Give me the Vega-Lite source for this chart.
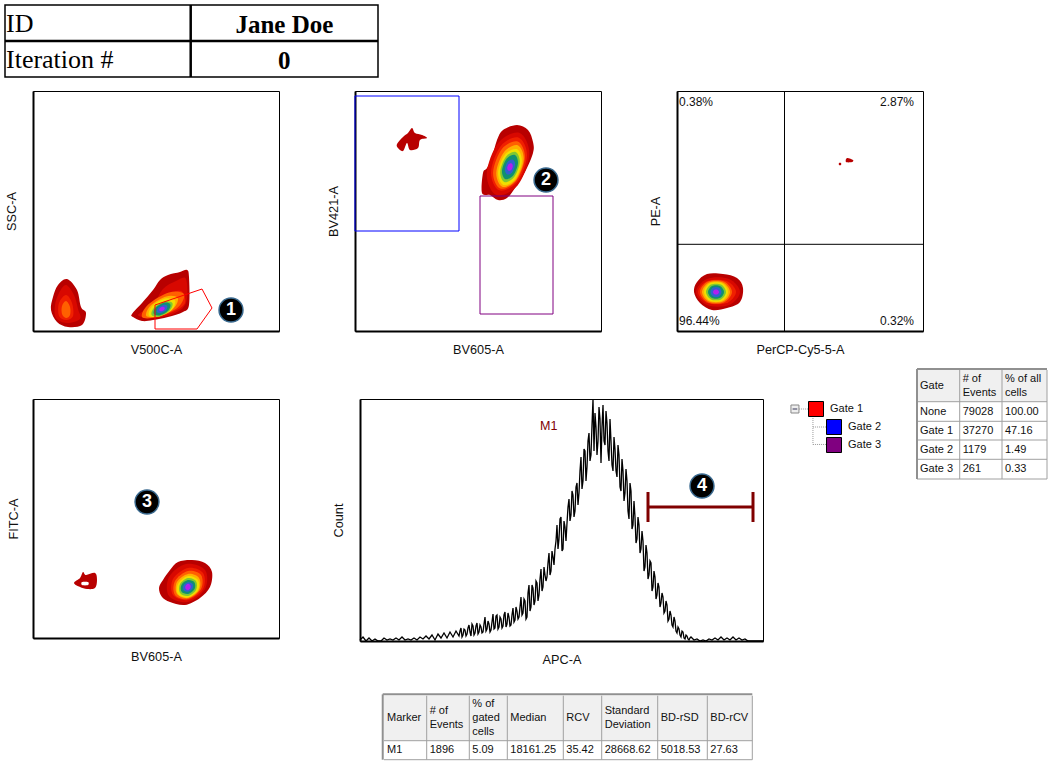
{"$schema":"https://vega.github.io/schema/vega-lite/v6.json","background":"white","padding":{"left":3,"top":3,"right":0,"bottom":0},"bounds":"full","spacing":11,
"config":{"view":{"stroke":null},"axis":{"domainColor":"#000","domainWidth":2,"ticks":false,"labels":false,"grid":false,"titleFont":"Liberation Sans","titleFontSize":12.7,"titleFontWeight":"normal","titleColor":"#111","titlePadding":15},"axisX":{"titlePadding":12},"text":{"font":"Liberation Sans","fontSize":11,"color":"#111","baseline":"middle","align":"left"}},
"datasets":{
"p1":[
{"b":"a","l":1,"i":0,"x":34,"y":52},{"b":"a","l":1,"i":1,"x":44,"y":41},{"b":"a","l":1,"i":2,"x":48,"y":24},{"b":"a","l":1,"i":3,"x":53,"y":18},{"b":"a","l":1,"i":4,"x":49,"y":6},{"b":"a","l":1,"i":5,"x":35,"y":4},{"b":"a","l":1,"i":6,"x":24,"y":9},{"b":"a","l":1,"i":7,"x":18,"y":21},{"b":"a","l":1,"i":8,"x":20,"y":34},{"b":"a","l":1,"i":9,"x":25,"y":46},
{"b":"a","l":2,"i":0,"x":33,"y":46},{"b":"a","l":2,"i":1,"x":41,"y":36},{"b":"a","l":2,"i":2,"x":45,"y":22},{"b":"a","l":2,"i":3,"x":47,"y":12},{"b":"a","l":2,"i":4,"x":34,"y":8},{"b":"a","l":2,"i":5,"x":23,"y":13},{"b":"a","l":2,"i":6,"x":22,"y":26},{"b":"a","l":2,"i":7,"x":26,"y":38},
{"b":"a","l":3,"i":0,"x":33,"y":36},{"b":"a","l":3,"i":1,"x":39,"y":28},{"b":"a","l":3,"i":2,"x":40,"y":15},{"b":"a","l":3,"i":3,"x":33,"y":11},{"b":"a","l":3,"i":4,"x":26,"y":15},{"b":"a","l":3,"i":5,"x":26,"y":28},
{"b":"a","l":4,"i":0,"x":33,"y":30},{"b":"a","l":4,"i":1,"x":37,"y":24},{"b":"a","l":4,"i":2,"x":37,"y":16},{"b":"a","l":4,"i":3,"x":33,"y":13},{"b":"a","l":4,"i":4,"x":29,"y":17},{"b":"a","l":4,"i":5,"x":29,"y":25},
{"b":"c","l":1,"i":0,"x":99,"y":17},{"b":"c","l":1,"i":1,"x":109,"y":28},{"b":"c","l":1,"i":2,"x":120,"y":41},{"b":"c","l":1,"i":3,"x":127,"y":51},{"b":"c","l":1,"i":4,"x":135,"y":56},{"b":"c","l":1,"i":5,"x":147,"y":59},{"b":"c","l":1,"i":6,"x":154,"y":61},{"b":"c","l":1,"i":7,"x":156,"y":54},{"b":"c","l":1,"i":8,"x":156,"y":26},{"b":"c","l":1,"i":9,"x":150,"y":19},{"b":"c","l":1,"i":10,"x":135,"y":14},{"b":"c","l":1,"i":11,"x":120,"y":11},{"b":"c","l":1,"i":12,"x":109,"y":10},{"b":"c","l":1,"i":13,"x":100,"y":14},
{"b":"c","l":2,"i":0,"x":105,"y":16},{"b":"c","l":2,"i":1,"x":120,"y":26},{"b":"c","l":2,"i":2,"x":130,"y":42},{"b":"c","l":2,"i":3,"x":143,"y":50},{"b":"c","l":2,"i":4,"x":153,"y":52},{"b":"c","l":2,"i":5,"x":153,"y":28},{"b":"c","l":2,"i":6,"x":140,"y":17},{"b":"c","l":2,"i":7,"x":120,"y":13},
{"b":"c","l":3,"i":0,"x":109,"y":17},{"b":"c","l":3,"i":1,"x":122,"y":27},{"b":"c","l":3,"i":2,"x":134,"y":36},{"b":"c","l":3,"i":3,"x":148,"y":40},{"b":"c","l":3,"i":4,"x":152,"y":28},{"b":"c","l":3,"i":5,"x":140,"y":19},{"b":"c","l":3,"i":6,"x":122,"y":14},
{"b":"c","l":4,"i":0,"x":150.9,"y":37},{"b":"c","l":4,"i":1,"x":136,"y":38.6},{"b":"c","l":4,"i":2,"x":115.2,"y":26.6},{"b":"c","l":4,"i":3,"x":109.1,"y":14},{"b":"c","l":4,"i":4,"x":124,"y":14},{"b":"c","l":4,"i":5,"x":144.8,"y":23.4},
{"b":"c","l":5,"i":0,"x":144.7,"y":33},{"b":"c","l":5,"i":1,"x":133.3,"y":34.6},{"b":"c","l":5,"i":2,"x":117.7,"y":25.6},{"b":"c","l":5,"i":3,"x":113.3,"y":15},{"b":"c","l":5,"i":4,"x":124.7,"y":15},{"b":"c","l":5,"i":5,"x":140.3,"y":22.4},
{"b":"c","l":6,"i":0,"x":142,"y":30.5},{"b":"c","l":6,"i":1,"x":132.2,"y":32.5},{"b":"c","l":6,"i":2,"x":119.2,"y":24.9},{"b":"c","l":6,"i":3,"x":116,"y":15.5},{"b":"c","l":6,"i":4,"x":125.8,"y":14.5},{"b":"c","l":6,"i":5,"x":138.8,"y":21.1},
{"b":"c","l":7,"i":0,"x":139.4,"y":28},{"b":"c","l":7,"i":1,"x":131.6,"y":29.5},{"b":"c","l":7,"i":2,"x":121.2,"y":23.5},{"b":"c","l":7,"i":3,"x":118.6,"y":16},{"b":"c","l":7,"i":4,"x":126.4,"y":14.5},{"b":"c","l":7,"i":5,"x":136.8,"y":20.5},
{"b":"c","l":8,"i":0,"x":137.3,"y":26.8},{"b":"c","l":8,"i":1,"x":130.9,"y":28.2},{"b":"c","l":8,"i":2,"x":122.7,"y":23.4},{"b":"c","l":8,"i":3,"x":120.7,"y":17.2},{"b":"c","l":8,"i":4,"x":127.1,"y":15.8},{"b":"c","l":8,"i":5,"x":135.3,"y":20.6},
{"b":"c","l":9,"i":0,"x":134.2,"y":25},{"b":"c","l":9,"i":1,"x":130.1,"y":26.1},{"b":"c","l":9,"i":2,"x":124.9,"y":23.1},{"b":"c","l":9,"i":3,"x":123.8,"y":19},{"b":"c","l":9,"i":4,"x":127.9,"y":17.9},{"b":"c","l":9,"i":5,"x":133.1,"y":20.9},
{"b":"c","l":10,"i":0,"x":131.6,"y":23.5},{"b":"c","l":10,"i":1,"x":129.4,"y":24.3},{"b":"c","l":10,"i":2,"x":126.8,"y":22.8},{"b":"c","l":10,"i":3,"x":126.4,"y":20.5},{"b":"c","l":10,"i":4,"x":128.6,"y":19.8},{"b":"c","l":10,"i":5,"x":131.2,"y":21.3}],
"p2":[
{"b":"s","l":1,"i":0,"x":57,"y":203},{"b":"s","l":1,"i":1,"x":60,"y":198},{"b":"s","l":1,"i":2,"x":67,"y":196},{"b":"s","l":1,"i":3,"x":72,"y":193},{"b":"s","l":1,"i":4,"x":65,"y":191},{"b":"s","l":1,"i":5,"x":63,"y":183},{"b":"s","l":1,"i":6,"x":55,"y":181},{"b":"s","l":1,"i":7,"x":52,"y":188},{"b":"s","l":1,"i":8,"x":48,"y":180},{"b":"s","l":1,"i":9,"x":43,"y":183},{"b":"s","l":1,"i":10,"x":42,"y":187},{"b":"s","l":1,"i":11,"x":48,"y":194},{"b":"s","l":1,"i":12,"x":53,"y":198},
{"b":"m","l":1,"i":0,"x":128,"y":158},{"b":"m","l":1,"i":1,"x":132,"y":163},{"b":"m","l":1,"i":2,"x":137,"y":174},{"b":"m","l":1,"i":3,"x":142,"y":191},{"b":"m","l":1,"i":4,"x":148,"y":201},{"b":"m","l":1,"i":5,"x":162,"y":206},{"b":"m","l":1,"i":6,"x":173,"y":201},{"b":"m","l":1,"i":7,"x":178,"y":189},{"b":"m","l":1,"i":8,"x":178,"y":178},{"b":"m","l":1,"i":9,"x":170,"y":159},{"b":"m","l":1,"i":10,"x":160,"y":143},{"b":"m","l":1,"i":11,"x":152,"y":133},{"b":"m","l":1,"i":12,"x":143,"y":131},{"b":"m","l":1,"i":13,"x":135,"y":136},{"b":"m","l":1,"i":14,"x":127,"y":138},
{"b":"m","l":2,"i":0,"x":164.6,"y":198},{"b":"m","l":2,"i":1,"x":143.3,"y":188.3},{"b":"m","l":2,"i":2,"x":131.7,"y":157.3},{"b":"m","l":2,"i":3,"x":141.4,"y":136},{"b":"m","l":2,"i":4,"x":162.7,"y":145.7},{"b":"m","l":2,"i":5,"x":174.3,"y":176.7},
{"b":"m","l":3,"i":0,"x":163.8,"y":193.3},{"b":"m","l":3,"i":1,"x":145.8,"y":185.1},{"b":"m","l":3,"i":2,"x":136,"y":158.7},{"b":"m","l":3,"i":3,"x":144.2,"y":140.7},{"b":"m","l":3,"i":4,"x":162.2,"y":148.9},{"b":"m","l":3,"i":5,"x":172,"y":175.3},
{"b":"m","l":4,"i":0,"x":162.8,"y":189.5},{"b":"m","l":4,"i":1,"x":146.9,"y":182.1},{"b":"m","l":4,"i":2,"x":138.1,"y":158.5},{"b":"m","l":4,"i":3,"x":145.2,"y":142.5},{"b":"m","l":4,"i":4,"x":161.1,"y":149.9},{"b":"m","l":4,"i":5,"x":169.9,"y":173.5},
{"b":"m","l":5,"i":0,"x":162.7,"y":185.7},{"b":"m","l":5,"i":1,"x":149.1,"y":178.9},{"b":"m","l":5,"i":2,"x":141.3,"y":158.3},{"b":"m","l":5,"i":3,"x":147.3,"y":144.3},{"b":"m","l":5,"i":4,"x":160.9,"y":151.1},{"b":"m","l":5,"i":5,"x":168.7,"y":171.7},
{"b":"m","l":6,"i":0,"x":161.7,"y":181.9},{"b":"m","l":6,"i":1,"x":149.7,"y":176.1},{"b":"m","l":6,"i":2,"x":143.1,"y":158.3},{"b":"m","l":6,"i":3,"x":148.3,"y":146.1},{"b":"m","l":6,"i":4,"x":160.3,"y":151.9},{"b":"m","l":6,"i":5,"x":166.9,"y":169.7},
{"b":"m","l":7,"i":0,"x":160.6,"y":179},{"b":"m","l":7,"i":1,"x":150.8,"y":174.1},{"b":"m","l":7,"i":2,"x":145.2,"y":159.1},{"b":"m","l":7,"i":3,"x":149.4,"y":149},{"b":"m","l":7,"i":4,"x":159.2,"y":153.9},{"b":"m","l":7,"i":5,"x":164.8,"y":168.9},
{"b":"m","l":8,"i":0,"x":159.6,"y":176.2},{"b":"m","l":8,"i":1,"x":151.6,"y":172.2},{"b":"m","l":8,"i":2,"x":147,"y":160},{"b":"m","l":8,"i":3,"x":150.4,"y":151.8},{"b":"m","l":8,"i":4,"x":158.4,"y":155.8},{"b":"m","l":8,"i":5,"x":163,"y":168},
{"b":"m","l":9,"i":0,"x":157.8,"y":171.5},{"b":"m","l":9,"i":1,"x":152.7,"y":169.2},{"b":"m","l":9,"i":2,"x":149.9,"y":161.6},{"b":"m","l":9,"i":3,"x":152.2,"y":156.5},{"b":"m","l":9,"i":4,"x":157.3,"y":158.8},{"b":"m","l":9,"i":5,"x":160.1,"y":166.4},
{"b":"m","l":10,"i":0,"x":156.4,"y":167.8},{"b":"m","l":10,"i":1,"x":153.6,"y":166.7},{"b":"m","l":10,"i":2,"x":152.2,"y":162.9},{"b":"m","l":10,"i":3,"x":153.6,"y":160.2},{"b":"m","l":10,"i":4,"x":156.4,"y":161.3},{"b":"m","l":10,"i":5,"x":157.8,"y":165.1}],
"p3":[
{"b":"d","l":1,"i":0,"x":170,"y":173},{"b":"d","l":1,"i":1,"x":176,"y":171},{"b":"d","l":1,"i":2,"x":175,"y":169},{"b":"d","l":1,"i":3,"x":169,"y":169},
{"b":"e","l":1,"i":0,"x":162,"y":168},{"b":"e","l":1,"i":1,"x":164,"y":168},{"b":"e","l":1,"i":2,"x":164,"y":166},{"b":"e","l":1,"i":3,"x":162,"y":166},
{"b":"m","l":1,"i":0,"x":17,"y":39},{"b":"m","l":1,"i":1,"x":20,"y":49},{"b":"m","l":1,"i":2,"x":30,"y":57},{"b":"m","l":1,"i":3,"x":46,"y":57},{"b":"m","l":1,"i":4,"x":60,"y":53},{"b":"m","l":1,"i":5,"x":66,"y":43},{"b":"m","l":1,"i":6,"x":63,"y":29},{"b":"m","l":1,"i":7,"x":50,"y":23},{"b":"m","l":1,"i":8,"x":35,"y":21},{"b":"m","l":1,"i":9,"x":23,"y":28},
{"b":"m","l":2,"i":0,"x":63,"y":39},{"b":"m","l":2,"i":1,"x":52,"y":52},{"b":"m","l":2,"i":2,"x":30,"y":52},{"b":"m","l":2,"i":3,"x":19,"y":39},{"b":"m","l":2,"i":4,"x":30,"y":26},{"b":"m","l":2,"i":5,"x":52,"y":26},
{"b":"m","l":3,"i":0,"x":59,"y":39},{"b":"m","l":3,"i":1,"x":49.5,"y":50},{"b":"m","l":3,"i":2,"x":30.5,"y":50},{"b":"m","l":3,"i":3,"x":21,"y":39},{"b":"m","l":3,"i":4,"x":30.5,"y":28},{"b":"m","l":3,"i":5,"x":49.5,"y":28},
{"b":"m","l":4,"i":0,"x":55,"y":39},{"b":"m","l":4,"i":1,"x":47,"y":49.4},{"b":"m","l":4,"i":2,"x":31,"y":49.4},{"b":"m","l":4,"i":3,"x":23,"y":39},{"b":"m","l":4,"i":4,"x":31,"y":28.6},{"b":"m","l":4,"i":5,"x":47,"y":28.6},
{"b":"m","l":5,"i":0,"x":53,"y":39},{"b":"m","l":5,"i":1,"x":46,"y":48.6},{"b":"m","l":5,"i":2,"x":32,"y":48.6},{"b":"m","l":5,"i":3,"x":25,"y":39},{"b":"m","l":5,"i":4,"x":32,"y":29.4},{"b":"m","l":5,"i":5,"x":46,"y":29.4},
{"b":"m","l":6,"i":0,"x":51,"y":39},{"b":"m","l":6,"i":1,"x":45,"y":47.7},{"b":"m","l":6,"i":2,"x":33,"y":47.7},{"b":"m","l":6,"i":3,"x":27,"y":39},{"b":"m","l":6,"i":4,"x":33,"y":30.3},{"b":"m","l":6,"i":5,"x":45,"y":30.3},
{"b":"m","l":7,"i":0,"x":49,"y":39},{"b":"m","l":7,"i":1,"x":44,"y":46.4},{"b":"m","l":7,"i":2,"x":34,"y":46.4},{"b":"m","l":7,"i":3,"x":29,"y":39},{"b":"m","l":7,"i":4,"x":34,"y":31.6},{"b":"m","l":7,"i":5,"x":44,"y":31.6},
{"b":"m","l":8,"i":0,"x":47,"y":39},{"b":"m","l":8,"i":1,"x":43,"y":45},{"b":"m","l":8,"i":2,"x":35,"y":45},{"b":"m","l":8,"i":3,"x":31,"y":39},{"b":"m","l":8,"i":4,"x":35,"y":33},{"b":"m","l":8,"i":5,"x":43,"y":33},
{"b":"m","l":9,"i":0,"x":44.5,"y":39},{"b":"m","l":9,"i":1,"x":41.8,"y":43.4},{"b":"m","l":9,"i":2,"x":36.2,"y":43.4},{"b":"m","l":9,"i":3,"x":33.5,"y":39},{"b":"m","l":9,"i":4,"x":36.2,"y":34.6},{"b":"m","l":9,"i":5,"x":41.8,"y":34.6},
{"b":"m","l":10,"i":0,"x":42,"y":39},{"b":"m","l":10,"i":1,"x":40.5,"y":41.3},{"b":"m","l":10,"i":2,"x":37.5,"y":41.3},{"b":"m","l":10,"i":3,"x":36,"y":39},{"b":"m","l":10,"i":4,"x":37.5,"y":36.7},{"b":"m","l":10,"i":5,"x":40.5,"y":36.7}],
"p4":[
{"b":"s","l":1,"i":0,"x":50,"y":66},{"b":"s","l":1,"i":1,"x":53,"y":63},{"b":"s","l":1,"i":2,"x":62,"y":65},{"b":"s","l":1,"i":3,"x":64,"y":58},{"b":"s","l":1,"i":4,"x":62,"y":50},{"b":"s","l":1,"i":5,"x":54,"y":49},{"b":"s","l":1,"i":6,"x":47,"y":51},{"b":"s","l":1,"i":7,"x":41,"y":55},{"b":"s","l":1,"i":8,"x":47,"y":60},
{"b":"s","l":11,"i":0,"x":49,"y":56},{"b":"s","l":11,"i":1,"x":55,"y":56},{"b":"s","l":11,"i":2,"x":55,"y":53},{"b":"s","l":11,"i":3,"x":49,"y":53},
{"b":"m","l":1,"i":0,"x":126,"y":50},{"b":"m","l":1,"i":1,"x":130,"y":58},{"b":"m","l":1,"i":2,"x":137,"y":68},{"b":"m","l":1,"i":3,"x":145,"y":76},{"b":"m","l":1,"i":4,"x":159,"y":78},{"b":"m","l":1,"i":5,"x":172,"y":75},{"b":"m","l":1,"i":6,"x":179,"y":66},{"b":"m","l":1,"i":7,"x":177,"y":51},{"b":"m","l":1,"i":8,"x":167,"y":40},{"b":"m","l":1,"i":9,"x":152,"y":33},{"b":"m","l":1,"i":10,"x":137,"y":36},{"b":"m","l":1,"i":11,"x":129,"y":41},
{"b":"m","l":2,"i":0,"x":172,"y":68},{"b":"m","l":2,"i":1,"x":153,"y":74},{"b":"m","l":2,"i":2,"x":136,"y":61},{"b":"m","l":2,"i":3,"x":136,"y":42},{"b":"m","l":2,"i":4,"x":155,"y":36},{"b":"m","l":2,"i":5,"x":172,"y":49},
{"b":"m","l":3,"i":0,"x":170,"y":65},{"b":"m","l":3,"i":1,"x":155,"y":70},{"b":"m","l":3,"i":2,"x":140,"y":59},{"b":"m","l":3,"i":3,"x":140,"y":43},{"b":"m","l":3,"i":4,"x":155,"y":38},{"b":"m","l":3,"i":5,"x":170,"y":49},
{"b":"m","l":4,"i":0,"x":168,"y":63},{"b":"m","l":4,"i":1,"x":155,"y":67},{"b":"m","l":4,"i":2,"x":142,"y":57},{"b":"m","l":4,"i":3,"x":142,"y":43},{"b":"m","l":4,"i":4,"x":155,"y":39},{"b":"m","l":4,"i":5,"x":168,"y":49},
{"b":"m","l":5,"i":0,"x":166,"y":60},{"b":"m","l":5,"i":1,"x":155,"y":64},{"b":"m","l":5,"i":2,"x":144,"y":56},{"b":"m","l":5,"i":3,"x":144,"y":44},{"b":"m","l":5,"i":4,"x":155,"y":40},{"b":"m","l":5,"i":5,"x":166,"y":48},
{"b":"m","l":6,"i":0,"x":165,"y":58},{"b":"m","l":6,"i":1,"x":155,"y":62},{"b":"m","l":6,"i":2,"x":145,"y":54},{"b":"m","l":6,"i":3,"x":145,"y":44},{"b":"m","l":6,"i":4,"x":155,"y":40.5},{"b":"m","l":6,"i":5,"x":165,"y":48},
{"b":"m","l":7,"i":0,"x":163,"y":57},{"b":"m","l":7,"i":1,"x":155,"y":60},{"b":"m","l":7,"i":2,"x":147,"y":54},{"b":"m","l":7,"i":3,"x":147,"y":45},{"b":"m","l":7,"i":4,"x":155,"y":42},{"b":"m","l":7,"i":5,"x":163,"y":48},
{"b":"m","l":8,"i":0,"x":161.4,"y":55.8},{"b":"m","l":8,"i":1,"x":154.8,"y":57.9},{"b":"m","l":8,"i":2,"x":148.4,"y":53.1},{"b":"m","l":8,"i":3,"x":148.6,"y":46.2},{"b":"m","l":8,"i":4,"x":155.2,"y":44.1},{"b":"m","l":8,"i":5,"x":161.6,"y":48.9},
{"b":"m","l":9,"i":0,"x":159.4,"y":54.3},{"b":"m","l":9,"i":1,"x":154.9,"y":55.8},{"b":"m","l":9,"i":2,"x":150.5,"y":52.5},{"b":"m","l":9,"i":3,"x":150.6,"y":47.7},{"b":"m","l":9,"i":4,"x":155.1,"y":46.2},{"b":"m","l":9,"i":5,"x":159.5,"y":49.5},
{"b":"m","l":10,"i":0,"x":157.4,"y":52.8},{"b":"m","l":10,"i":1,"x":155,"y":54.2},{"b":"m","l":10,"i":2,"x":152.5,"y":52},{"b":"m","l":10,"i":3,"x":152.6,"y":49.2},{"b":"m","l":10,"i":4,"x":155,"y":47.8},{"b":"m","l":10,"i":5,"x":157.5,"y":50}],
"hist":[{"x":0,"y":1},{"x":3,"y":4},{"x":6,"y":0},{"x":9,"y":3},{"x":12,"y":0},{"x":15,"y":2},{"x":18,"y":0},{"x":21,"y":0},{"x":24,"y":3},{"x":27,"y":1},{"x":30,"y":2},{"x":33,"y":1},{"x":36,"y":3},{"x":39,"y":1},{"x":42,"y":4},{"x":45,"y":1},{"x":48,"y":2},{"x":51,"y":1},{"x":54,"y":3},{"x":57,"y":1},{"x":60,"y":4},{"x":63,"y":2},{"x":66,"y":5},{"x":69,"y":2},{"x":72,"y":6},{"x":75,"y":1},{"x":78,"y":7},{"x":81,"y":3},{"x":84,"y":8},{"x":87,"y":3},{"x":90,"y":9},{"x":93,"y":4},{"x":96,"y":10},{"x":99,"y":5},{"x":101,"y":13},{"x":103,"y":6},{"x":105,"y":11},{"x":107,"y":7},{"x":109,"y":16},{"x":111,"y":5},{"x":113,"y":15},{"x":115,"y":8},{"x":117,"y":18},{"x":119,"y":9},{"x":121,"y":14},{"x":123,"y":9},{"x":125,"y":24},{"x":127,"y":12},{"x":129,"y":17},{"x":131,"y":11},{"x":133,"y":27},{"x":135,"y":13},{"x":137,"y":26},{"x":139,"y":14},{"x":141,"y":22},{"x":143,"y":15},{"x":145,"y":29},{"x":147,"y":17},{"x":149,"y":24},{"x":151,"y":16},{"x":153,"y":33},{"x":155,"y":21},{"x":157,"y":30},{"x":159,"y":24},{"x":161,"y":44},{"x":163,"y":28},{"x":165,"y":40},{"x":167,"y":24},{"x":169,"y":56},{"x":171,"y":34},{"x":173,"y":53},{"x":175,"y":40},{"x":177,"y":58},{"x":179,"y":46},{"x":181,"y":72},{"x":183,"y":54},{"x":185,"y":66},{"x":187,"y":64},{"x":189,"y":88},{"x":191,"y":70},{"x":193,"y":84},{"x":195,"y":92},{"x":197,"y":116},{"x":199,"y":102},{"x":201,"y":124},{"x":203,"y":92},{"x":205,"y":114},{"x":207,"y":118},{"x":209,"y":142},{"x":211,"y":126},{"x":213,"y":146},{"x":215,"y":130},{"x":217,"y":158},{"x":219,"y":148},{"x":221,"y":184},{"x":223,"y":160},{"x":225,"y":190},{"x":227,"y":174},{"x":229,"y":208},{"x":231,"y":186},{"x":233,"y":242},{"x":234,"y":190},{"x":236,"y":214},{"x":238,"y":200},{"x":240,"y":222},{"x":241,"y":178},{"x":243,"y":236},{"x":245,"y":196},{"x":247,"y":218},{"x":249,"y":180},{"x":251,"y":200},{"x":253,"y":170},{"x":255,"y":192},{"x":257,"y":164},{"x":259,"y":186},{"x":261,"y":150},{"x":263,"y":170},{"x":265,"y":148},{"x":267,"y":160},{"x":269,"y":122},{"x":271,"y":150},{"x":273,"y":116},{"x":275,"y":124},{"x":277,"y":102},{"x":279,"y":116},{"x":281,"y":92},{"x":283,"y":100},{"x":285,"y":74},{"x":287,"y":88},{"x":289,"y":66},{"x":291,"y":78},{"x":293,"y":54},{"x":295,"y":64},{"x":297,"y":46},{"x":299,"y":54},{"x":301,"y":38},{"x":303,"y":44},{"x":305,"y":30},{"x":307,"y":36},{"x":309,"y":22},{"x":311,"y":26},{"x":313,"y":14},{"x":315,"y":20},{"x":317,"y":8},{"x":319,"y":12},{"x":321,"y":4},{"x":323,"y":9},{"x":325,"y":2},{"x":327,"y":5},{"x":329,"y":1},{"x":331,"y":4},{"x":334,"y":1},{"x":337,"y":2},{"x":340,"y":0},{"x":343,"y":1},{"x":346,"y":0},{"x":349,"y":2},{"x":352,"y":1},{"x":355,"y":3},{"x":358,"y":1},{"x":361,"y":4},{"x":364,"y":1},{"x":367,"y":3},{"x":370,"y":1},{"x":373,"y":4},{"x":376,"y":1},{"x":379,"y":3},{"x":382,"y":1},{"x":385,"y":2},{"x":388,"y":0},{"x":403,"y":0},
{"x":100,"y":10},{"x":102,"y":4},{"x":104,"y":12},{"x":106,"y":5},{"x":108,"y":13},{"x":110,"y":9},{"x":112,"y":17},{"x":114,"y":6},{"x":116,"y":15},{"x":118,"y":7},{"x":120,"y":16},{"x":122,"y":8},{"x":124,"y":17},{"x":126,"y":10},{"x":128,"y":20},{"x":130,"y":9},{"x":132,"y":19},{"x":134,"y":12},{"x":136,"y":25},{"x":138,"y":12},{"x":140,"y":24},{"x":142,"y":13},{"x":144,"y":26},{"x":146,"y":14},{"x":148,"y":28},{"x":150,"y":15},{"x":152,"y":26},{"x":154,"y":19},{"x":156,"y":34},{"x":158,"y":22},{"x":160,"y":34},{"x":162,"y":26},{"x":164,"y":42},{"x":166,"y":22},{"x":168,"y":48},{"x":170,"y":30},{"x":172,"y":56},{"x":174,"y":36},{"x":176,"y":60},{"x":178,"y":40},{"x":180,"y":62},{"x":182,"y":50},{"x":184,"y":74},{"x":186,"y":60},{"x":188,"y":78},{"x":190,"y":66},{"x":192,"y":90},{"x":194,"y":76},{"x":196,"y":100},{"x":198,"y":92},{"x":200,"y":122},{"x":202,"y":90},{"x":204,"y":120},{"x":206,"y":100},{"x":208,"y":134},{"x":210,"y":120},{"x":212,"y":150},{"x":214,"y":124},{"x":216,"y":154},{"x":218,"y":136},{"x":220,"y":170},{"x":222,"y":152},{"x":224,"y":192},{"x":226,"y":160},{"x":228,"y":200},{"x":230,"y":180},{"x":232,"y":216},{"x":235,"y":228},{"x":237,"y":186},{"x":239,"y":234},{"x":242,"y":214},{"x":244,"y":200},{"x":246,"y":230},{"x":248,"y":190},{"x":250,"y":222},{"x":252,"y":176},{"x":254,"y":204},{"x":256,"y":170},{"x":258,"y":196},{"x":260,"y":154},{"x":262,"y":182},{"x":264,"y":140},{"x":266,"y":172},{"x":268,"y":130},{"x":270,"y":158},{"x":272,"y":112},{"x":274,"y":140},{"x":276,"y":98},{"x":278,"y":124},{"x":280,"y":88},{"x":282,"y":110},{"x":284,"y":70},{"x":286,"y":96},{"x":288,"y":62},{"x":290,"y":80},{"x":292,"y":50},{"x":294,"y":70},{"x":296,"y":42},{"x":298,"y":58},{"x":300,"y":34},{"x":302,"y":48},{"x":304,"y":28},{"x":306,"y":40},{"x":308,"y":20},{"x":310,"y":30},{"x":312,"y":16},{"x":314,"y":24},{"x":316,"y":10},{"x":318,"y":14},{"x":320,"y":6},{"x":322,"y":10},{"x":324,"y":3},{"x":326,"y":6},{"x":328,"y":2},{"x":330,"y":3}]
},
"vconcat":[
{"width":373,"height":72,"view":{"stroke":"#000","strokeWidth":1.5},
"layer":[
{"data":{"values":[{"c":1,"c2":1,"r":0,"r2":2},{"c":0,"c2":2,"r":1,"r2":1}]},"mark":{"type":"rule","color":"#000","strokeWidth":2.5},"encoding":{"x":{"field":"c","type":"quantitative","scale":{"domain":[0,1,2],"range":[0,185.7,373]},"axis":null},"x2":{"field":"c2"},"y":{"field":"r","type":"quantitative","scale":{"domain":[0,1,2],"range":[0,36,72]},"axis":null},"y2":{"field":"r2"}}},
{"data":{"values":[{"c":0,"r":0.5,"t":"ID"},{"c":0,"r":1.5,"t":"Iteration #"}]},"mark":{"type":"text","font":"Liberation Serif","fontSize":26,"dx":1,"dy":1,"color":"#000"},"encoding":{"x":{"field":"c","type":"quantitative","scale":{"domain":[0,1,2],"range":[0,185.7,373]},"axis":null},"y":{"field":"r","type":"quantitative","scale":{"domain":[0,1,2],"range":[0,36,72]},"axis":null},"text":{"field":"t"}}},
{"data":{"values":[{"c":1.5,"r":0.5,"t":"Jane Doe"},{"c":1.5,"r":1.5,"t":"0"}]},"mark":{"type":"text","font":"Liberation Serif","fontSize":25,"fontWeight":"bold","align":"center","dy":1.5,"color":"#000"},"encoding":{"x":{"field":"c","type":"quantitative","scale":{"domain":[0,1,2],"range":[0,185.7,373]},"axis":null},"y":{"field":"r","type":"quantitative","scale":{"domain":[0,1,2],"range":[0,36,72]},"axis":null},"text":{"field":"t"}}}
]},
{"hconcat":[
{"width":28,"height":1,"data":{"values":[{}]},"mark":{"type":"rule","opacity":0},"encoding":{}},
{"width":246,"height":240,"view":{"stroke":"#000"},
"encoding":{"x":{"field":"x","type":"quantitative","scale":{"domain":[0,246]},"title":"V500C-A"},"y":{"field":"y","type":"quantitative","scale":{"domain":[0,240]},"title":"SSC-A"}},
"layer":[
{"data":{"name":"p1"},"mark":{"type":"line","interpolate":"cardinal-closed","strokeWidth":0},"encoding":{"fill":{"field":"l","type":"ordinal","scale":{"domain":[1,2,3,4,5,6,7,8,9,10,11],"range":["#b80000","#d80800","#f02000","#ff6000","#ffb000","#f0e000","#80c830","#109070","#3060d0","#b020f0","#ffffff"]},"legend":null},"detail":{"field":"b"},"order":{"field":"i"}}},
{"data":{"values":[{"i":0,"x":122,"y":2},{"i":1,"x":122,"y":26},{"i":2,"x":169,"y":42},{"i":3,"x":179,"y":23},{"i":4,"x":164,"y":2},{"i":5,"x":122,"y":2}]},"mark":{"type":"line","color":"#ff0000","strokeWidth":1},"encoding":{"order":{"field":"i"}}},
{"data":{"values":[{"x":198,"y":21,"t":"1"}]},"mark":{"type":"circle","size":572,"color":"#000","stroke":"#3a6a90","strokeWidth":1.5,"opacity":1}},
{"data":{"values":[{"x":198,"y":21,"t":"1"}]},"mark":{"type":"text","font":"Liberation Sans","fontWeight":"bold","fontSize":18,"align":"center","color":"#fff"},"encoding":{"text":{"field":"t"}}}
]},
{"width":76,"height":1,"data":{"values":[{}]},"mark":{"type":"rule","opacity":0},"encoding":{}},
{"width":246,"height":240,"view":{"stroke":"#000"},
"encoding":{"x":{"field":"x","type":"quantitative","scale":{"domain":[0,246]},"title":"BV605-A"},"y":{"field":"y","type":"quantitative","scale":{"domain":[0,240]},"title":"BV421-A"}},
"layer":[
{"data":{"name":"p2"},"mark":{"type":"line","interpolate":"cardinal-closed","strokeWidth":0},"encoding":{"fill":{"field":"l","type":"ordinal","scale":{"domain":[1,2,3,4,5,6,7,8,9,10,11],"range":["#b80000","#d80800","#f02000","#ff6000","#ffb000","#f0e000","#80c830","#109070","#3060d0","#b020f0","#ffffff"]},"legend":null},"detail":{"field":"b"},"order":{"field":"i"}}},
{"data":{"values":[{"gate":"Gate 2","x":0,"x2":104,"y":100,"y2":235},{"gate":"Gate 3","x":125,"x2":198,"y":17,"y2":135}]},"mark":{"type":"rect","fill":null,"strokeWidth":1,"opacity":1},"encoding":{"x2":{"field":"x2"},"y2":{"field":"y2"},"stroke":{"field":"gate","type":"nominal","scale":{"domain":["Gate 1","Gate 2","Gate 3"],"range":["#ff0000","#0000ff","#800080"]},"legend":null}}},
{"data":{"values":[{"x":191,"y":151,"t":"2"}]},"mark":{"type":"circle","size":572,"color":"#000","stroke":"#3a6a90","strokeWidth":1.5,"opacity":1}},
{"data":{"values":[{"x":191,"y":151,"t":"2"}]},"mark":{"type":"text","font":"Liberation Sans","fontWeight":"bold","fontSize":18,"align":"center","color":"#fff"},"encoding":{"text":{"field":"t"}}}
]},
{"width":76,"height":1,"data":{"values":[{}]},"mark":{"type":"rule","opacity":0},"encoding":{}},
{"width":246,"height":240,"view":{"stroke":"#000"},
"encoding":{"x":{"field":"x","type":"quantitative","scale":{"domain":[0,246]},"title":"PerCP-Cy5-5-A"},"y":{"field":"y","type":"quantitative","scale":{"domain":[0,240]},"title":"PE-A"}},
"layer":[
{"data":{"name":"p3"},"mark":{"type":"line","interpolate":"cardinal-closed","strokeWidth":0},"encoding":{"fill":{"field":"l","type":"ordinal","scale":{"domain":[1,2,3,4,5,6,7,8,9,10,11],"range":["#b80000","#d80800","#f02000","#ff6000","#ffb000","#f0e000","#80c830","#109070","#3060d0","#b020f0","#ffffff"]},"legend":null},"detail":{"field":"b"},"order":{"field":"i"}}},
{"data":{"values":[{"x":107.5,"x2":107.5,"y":0,"y2":240},{"x":0,"x2":246,"y":86.7,"y2":86.7}]},"mark":{"type":"rule","color":"#000","strokeWidth":1},"encoding":{"x2":{"field":"x2"},"y2":{"field":"y2"}}},
{"data":{"values":[{"x":2,"y":229,"t":"0.38%"},{"x":2,"y":10,"t":"96.44%"}]},"mark":{"type":"text","fontSize":12},"encoding":{"text":{"field":"t"}}},
{"data":{"values":[{"x":237,"y":229,"t":"2.87%"},{"x":237,"y":10,"t":"0.32%"}]},"mark":{"type":"text","fontSize":12,"align":"right"},"encoding":{"text":{"field":"t"}}}
]}
],"spacing":0,"bounds":"flush"},
{"hconcat":[
{"width":0.01,"height":1,"data":{"values":[{}]},"mark":{"type":"rule","opacity":0},"encoding":{}},
{"vconcat":[
{"width":10,"height":20,"data":{"values":[{}]},"mark":{"type":"rule","opacity":0},"encoding":{}},
{"width":246,"height":239,"view":{"stroke":"#000"},
"encoding":{"x":{"field":"x","type":"quantitative","scale":{"domain":[0,246]},"title":"BV605-A"},"y":{"field":"y","type":"quantitative","scale":{"domain":[0,239]},"axis":{"title":"FITC-A","titlePadding":13}}},
"layer":[
{"data":{"name":"p4"},"mark":{"type":"line","interpolate":"cardinal-closed","strokeWidth":0},"encoding":{"fill":{"field":"l","type":"ordinal","scale":{"domain":[1,2,3,4,5,6,7,8,9,10,11],"range":["#b80000","#d80800","#f02000","#ff6000","#ffb000","#f0e000","#80c830","#109070","#3060d0","#b020f0","#ffffff"]},"legend":null},"detail":{"field":"b"},"order":{"field":"i"}}},
{"data":{"values":[{"x":114,"y":136,"t":"3"}]},"mark":{"type":"circle","size":572,"color":"#000","stroke":"#3a6a90","strokeWidth":1.5,"opacity":1}},
{"data":{"values":[{"x":114,"y":136,"t":"3"}]},"mark":{"type":"text","font":"Liberation Sans","fontWeight":"bold","fontSize":18,"align":"center","color":"#fff"},"encoding":{"text":{"field":"t"}}}
]}
],"spacing":10,"bounds":"flush"},
{"width":50,"height":1,"data":{"values":[{}]},"mark":{"type":"rule","opacity":0},"encoding":{}},
{"vconcat":[
{"width":10,"height":20,"data":{"values":[{}]},"mark":{"type":"rule","opacity":0},"encoding":{}},
{"width":403,"height":242,"view":{"stroke":"#000"},
"encoding":{"x":{"field":"x","type":"quantitative","scale":{"domain":[0,403]},"title":"APC-A"},"y":{"field":"y","type":"quantitative","scale":{"domain":[0,242]},"title":"Count"}},
"layer":[
{"data":{"name":"hist"},"mark":{"type":"line","color":"#000","strokeWidth":1.3}},
{"data":{"values":[{"x":288,"x2":393,"y":134,"y2":134},{"x":288,"x2":288,"y":119,"y2":149},{"x":393,"x2":393,"y":119,"y2":149}]},"mark":{"type":"rule","color":"#800000","strokeWidth":3},"encoding":{"x2":{"field":"x2"},"y2":{"field":"y2"}}},
{"data":{"values":[{"x":180,"y":215,"t":"M1"}]},"mark":{"type":"text","fontSize":12.5,"color":"#800000"},"encoding":{"text":{"field":"t"}}},
{"data":{"values":[{"x":342,"y":155,"t":"4"}]},"mark":{"type":"circle","size":572,"color":"#000","stroke":"#3a6a90","strokeWidth":1.5,"opacity":1}},
{"data":{"values":[{"x":342,"y":155,"t":"4"}]},"mark":{"type":"text","font":"Liberation Sans","fontWeight":"bold","fontSize":18,"align":"center","color":"#fff"},"encoding":{"text":{"field":"t"}}}
]},
{"width":10,"height":32,"data":{"values":[{}]},"mark":{"type":"rule","opacity":0},"encoding":{}},
{"width":403,"height":68,
"layer":[
{"data":{"values":[{"c":0,"c2":8,"r":0,"r2":1}]},"mark":{"type":"rect","color":"#f0f0f0"},"encoding":{"x":{"field":"c","type":"quantitative","scale":{"domain":[0,1,2,3,4,5,6,7,8],"range":[24,66.7,109.3,147.3,203.3,241.7,297.7,347.3,392.3]},"axis":null},"x2":{"field":"c2"},"y":{"field":"r","type":"quantitative","scale":{"domain":[0,1,2],"range":[2.7,47.7,66.7]},"axis":null},"y2":{"field":"r2"}}},
{"data":{"values":[{"c":1,"c2":1,"r":0,"r2":2},{"c":2,"c2":2,"r":0,"r2":2},{"c":3,"c2":3,"r":0,"r2":2},{"c":4,"c2":4,"r":0,"r2":2},{"c":5,"c2":5,"r":0,"r2":2},{"c":6,"c2":6,"r":0,"r2":2},{"c":7,"c2":7,"r":0,"r2":2},{"c":8,"c2":8,"r":0,"r2":2},{"c":0,"c2":8,"r":1,"r2":1},{"c":0,"c2":8,"r":2,"r2":2}]},"mark":{"type":"rule","color":"#a0a0a0","strokeWidth":1},"encoding":{"x":{"field":"c","type":"quantitative","scale":{"domain":[0,1,2,3,4,5,6,7,8],"range":[24,66.7,109.3,147.3,203.3,241.7,297.7,347.3,392.3]},"axis":null},"x2":{"field":"c2"},"y":{"field":"r","type":"quantitative","scale":{"domain":[0,1,2],"range":[2.7,47.7,66.7]},"axis":null},"y2":{"field":"r2"}}},
{"data":{"values":[{"c":-0.03,"c2":-0.03,"r":-0.03,"r2":2},{"c":-0.03,"c2":8,"r":-0.03,"r2":-0.03}]},"mark":{"type":"rule","color":"#909090","strokeWidth":2},"encoding":{"x":{"field":"c","type":"quantitative","scale":{"domain":[0,1,2,3,4,5,6,7,8],"range":[24,66.7,109.3,147.3,203.3,241.7,297.7,347.3,392.3]},"axis":null},"x2":{"field":"c2"},"y":{"field":"r","type":"quantitative","scale":{"domain":[0,1,2],"range":[2.7,47.7,66.7]},"axis":null},"y2":{"field":"r2"}}},
{"data":{"values":[{"c":0,"r":0.5,"t":"Marker"},{"c":1,"r":0.345,"t":"# of"},{"c":1,"r":0.655,"t":"Events"},{"c":2,"r":0.19,"t":"% of"},{"c":2,"r":0.5,"t":"gated"},{"c":2,"r":0.81,"t":"cells"},{"c":3,"r":0.5,"t":"Median"},{"c":4,"r":0.5,"t":"RCV"},{"c":5,"r":0.345,"t":"Standard"},{"c":5,"r":0.655,"t":"Deviation"},{"c":6,"r":0.5,"t":"BD-rSD"},{"c":7,"r":0.5,"t":"BD-rCV"},{"c":0,"r":1.5,"t":"M1"},{"c":1,"r":1.5,"t":"1896"},{"c":2,"r":1.5,"t":"5.09"},{"c":3,"r":1.5,"t":"18161.25"},{"c":4,"r":1.5,"t":"35.42"},{"c":5,"r":1.5,"t":"28668.62"},{"c":6,"r":1.5,"t":"5018.53"},{"c":7,"r":1.5,"t":"27.63"}]},"mark":{"type":"text","dx":3},"encoding":{"x":{"field":"c","type":"quantitative","scale":{"domain":[0,1,2,3,4,5,6,7,8],"range":[24,66.7,109.3,147.3,203.3,241.7,297.7,347.3,392.3]},"axis":null},"y":{"field":"r","type":"quantitative","scale":{"domain":[0,1,2],"range":[2.7,47.7,66.7]},"axis":null},"text":{"field":"t"}}}
]}
],"spacing":10,"bounds":"flush"},
{"width":149,"height":112,
"layer":[
{"data":{"values":[{"d":-0.17,"d2":-0.17,"r":0.39,"r2":1.97},{"d":-0.17,"d2":0.55,"r":1,"r2":1},{"d":-0.17,"d2":0.55,"r":1.97,"r2":1.97},{"d":-0.94,"d2":-0.44,"r":0,"r2":0}]},"mark":{"type":"rule","color":"#999","strokeWidth":1,"strokeDash":[1,1]},"encoding":{"x":{"field":"d","type":"quantitative","scale":{"domain":[0,1],"range":[49,67]},"axis":null},"x2":{"field":"d2"},"y":{"field":"r","type":"quantitative","scale":{"domain":[0,2],"range":[40,76]},"axis":null},"y2":{"field":"r2"}}},
{"data":{"values":[{"d":-1.17,"r":0}]},"mark":{"type":"square","size":64,"color":"#eeeeee","stroke":"#888","strokeWidth":1,"opacity":1},"encoding":{"x":{"field":"d","type":"quantitative","scale":{"domain":[0,1],"range":[49,67]},"axis":null},"y":{"field":"r","type":"quantitative","scale":{"domain":[0,2],"range":[40,76]},"axis":null}}},
{"data":{"values":[{"d":-1.3,"d2":-1.04,"r":0,"r2":0}]},"mark":{"type":"rule","color":"#335","strokeWidth":1},"encoding":{"x":{"field":"d","type":"quantitative","scale":{"domain":[0,1],"range":[49,67]},"axis":null},"x2":{"field":"d2"},"y":{"field":"r","type":"quantitative","scale":{"domain":[0,2],"range":[40,76]},"axis":null},"y2":{"field":"r2"}}},
{"data":{"values":[{"d":0,"r":0,"name":"Gate 1"},{"d":1,"r":1,"name":"Gate 2"},{"d":1,"r":2,"name":"Gate 3"}]},"mark":{"type":"square","size":225,"stroke":"#000","strokeWidth":1,"opacity":1},"encoding":{"x":{"field":"d","type":"quantitative","scale":{"domain":[0,1],"range":[49,67]},"axis":null},"y":{"field":"r","type":"quantitative","scale":{"domain":[0,2],"range":[40,76]},"axis":null},"color":{"field":"name","type":"nominal","scale":{"domain":["Gate 1","Gate 2","Gate 3"],"range":["#ff0000","#0000ff","#800080"]},"legend":null}}},
{"data":{"values":[{"d":0,"r":0,"name":"Gate 1"},{"d":1,"r":1,"name":"Gate 2"},{"d":1,"r":2,"name":"Gate 3"}]},"mark":{"type":"text","dx":14},"encoding":{"x":{"field":"d","type":"quantitative","scale":{"domain":[0,1],"range":[49,67]},"axis":null},"y":{"field":"r","type":"quantitative","scale":{"domain":[0,2],"range":[40,76]},"axis":null},"text":{"field":"name"}}}
]},
{"width":130,"height":112,
"layer":[
{"data":{"values":[{"c":0,"c2":3,"r":0,"r2":1}]},"mark":{"type":"rect","color":"#f0f0f0"},"encoding":{"x":{"field":"c","type":"quantitative","scale":{"domain":[0,1,2,3],"range":[0,42.7,85,130]},"axis":null},"x2":{"field":"c2"},"y":{"field":"r","type":"quantitative","scale":{"domain":[0,1,2,3,4,5],"range":[1,32.7,52.3,71,90.3,110]},"axis":null},"y2":{"field":"r2"}}},
{"data":{"values":[{"c":1,"c2":1,"r":0,"r2":5},{"c":2,"c2":2,"r":0,"r2":5},{"c":3,"c2":3,"r":0,"r2":5},{"c":0,"c2":3,"r":1,"r2":1},{"c":0,"c2":3,"r":2,"r2":2},{"c":0,"c2":3,"r":3,"r2":3},{"c":0,"c2":3,"r":4,"r2":4},{"c":0,"c2":3,"r":5,"r2":5}]},"mark":{"type":"rule","color":"#a0a0a0","strokeWidth":1},"encoding":{"x":{"field":"c","type":"quantitative","scale":{"domain":[0,1,2,3],"range":[0,42.7,85,130]},"axis":null},"x2":{"field":"c2"},"y":{"field":"r","type":"quantitative","scale":{"domain":[0,1,2,3,4,5],"range":[1,32.7,52.3,71,90.3,110]},"axis":null},"y2":{"field":"r2"}}},
{"data":{"values":[{"c":0,"c2":0,"r":-0.03,"r2":5},{"c":0,"c2":3,"r":-0.03,"r2":-0.03}]},"mark":{"type":"rule","color":"#909090","strokeWidth":2},"encoding":{"x":{"field":"c","type":"quantitative","scale":{"domain":[0,1,2,3],"range":[0,42.7,85,130]},"axis":null},"x2":{"field":"c2"},"y":{"field":"r","type":"quantitative","scale":{"domain":[0,1,2,3,4,5],"range":[1,32.7,52.3,71,90.3,110]},"axis":null},"y2":{"field":"r2"}}},
{"data":{"values":[{"c":0,"r":0.5,"t":"Gate"},{"c":1,"r":0.28,"t":"# of"},{"c":1,"r":0.72,"t":"Events"},{"c":2,"r":0.28,"t":"% of all"},{"c":2,"r":0.72,"t":"cells"},{"c":0,"r":1.5,"t":"None"},{"c":1,"r":1.5,"t":"79028"},{"c":2,"r":1.5,"t":"100.00"},{"c":0,"r":2.5,"t":"Gate 1"},{"c":1,"r":2.5,"t":"37270"},{"c":2,"r":2.5,"t":"47.16"},{"c":0,"r":3.5,"t":"Gate 2"},{"c":1,"r":3.5,"t":"1179"},{"c":2,"r":3.5,"t":"1.49"},{"c":0,"r":4.5,"t":"Gate 3"},{"c":1,"r":4.5,"t":"261"},{"c":2,"r":4.5,"t":"0.33"}]},"mark":{"type":"text","dx":3},"encoding":{"x":{"field":"c","type":"quantitative","scale":{"domain":[0,1,2,3],"range":[0,42.7,85,130]},"axis":null},"y":{"field":"r","type":"quantitative","scale":{"domain":[0,1,2,3,4,5],"range":[1,32.7,52.3,71,90.3,110]},"axis":null},"text":{"field":"t"}}}
]}
],"spacing":0,"bounds":"full"}
]}
